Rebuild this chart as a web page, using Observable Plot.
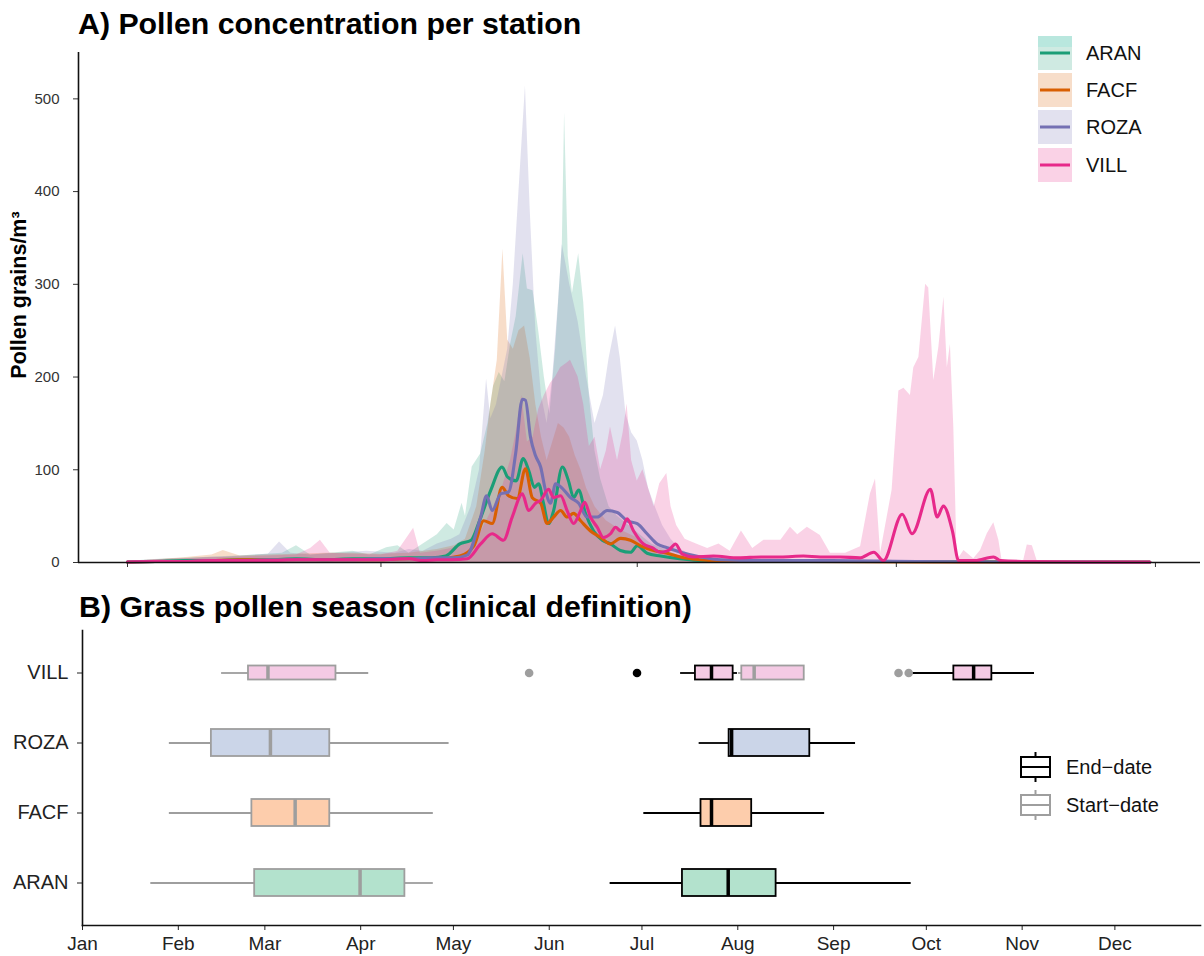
<!DOCTYPE html>
<html><head><meta charset="utf-8">
<script src="https://cdn.jsdelivr.net/npm/d3@7"></script>
<script src="https://cdn.jsdelivr.net/npm/@observablehq/plot@0.6"></script>
<style>
body{margin:0;background:#fff;font-family:"Liberation Sans",Arial,sans-serif;}
#wrap{position:relative;width:1204px;height:956px;overflow:hidden;}
#wrap > svg, #wrap > div{position:absolute;left:0;}
</style></head><body><div id="wrap"></div>
<script>
const FONT = '"Liberation Sans", Arial, sans-serif';
// ---------- data ----------
const stations = ["ARAN", "FACF", "ROZA", "VILL"];
const lineColors = ["#1b9e77", "#d95f02", "#7570b3", "#e7298a"];
const boxFills = ["#b3e2cd", "#fdcdac", "#cbd5e8", "#f4cae4"];
const yTicksA = [0, 100, 200, 300, 400, 500];
const quarterDays = [0, 90, 181, 273, 365];
const monthLabels = ["Jan","Feb","Mar","Apr","May","Jun","Jul","Aug","Sep","Oct","Nov","Dec"];
const monthStartDays = [0,31,59,90,120,151,181,212,243,273,304,334];

// Panel A: smoothed concentration per station [day of year, grains/m3]
const aranMean = [[0,0.5],[10,1],[20,2],[30,2],[40,3],[50,3],[60,4],[70,3],[80,4],[90,4],[100,5],[108,5],[113,7],[118,20],[122,24],[125,45],[129,78],[133,103],[135,92],[138,88],[140.5,112],[142.5,99],[144.5,81],[146,85],[147.7,64],[149.5,42],[151.3,56],[154.4,103],[156.6,88],[158.4,70],[160.2,78],[162.6,53],[165.5,34],[168.6,24],[171.5,20],[175,13],[178.6,11],[181,18],[184.5,10],[189.3,7],[196,4],[205,2],[220,2],[240,1],[270,1],[300,1],[330,0.5],[363,0.5]];
const facfMean = [[0,0.5],[10,1],[20,1],[30,2],[40,3],[50,3],[60,3],[70,3],[80,3],[90,3],[100,4],[110,4],[118,7],[123,18],[126.5,45],[129.5,42],[133,81],[135.3,72],[138.4,69],[141.3,101],[143.7,70],[146.7,64],[149,42],[151.3,49],[153.8,56],[156.1,49],[158.4,53],[160.9,45],[164.4,34],[168,27],[171.5,20],[175.1,26],[178.6,24],[182.2,18],[186.8,13],[191.6,10],[196.4,6],[203.5,3],[215,1],[240,1],[280,0.5],[363,0.3]];
const rozaMean = [[0,0.5],[10,1],[20,1],[30,2],[40,2],[50,3],[60,3],[70,3],[80,3],[90,4],[100,4],[110,5],[116,5],[120.6,8],[125.4,49],[127.5,72],[129.5,56],[132.5,74],[135.3,76],[137.8,117],[140.2,176],[141.3,175],[143.1,135],[144.9,115],[146.7,103],[148.4,78],[150.2,64],[152,85],[154.4,80],[157.3,70],[160.2,64],[163.2,49],[166.8,49],[170.3,56],[173.9,54],[177.4,45],[181,42],[184.5,31],[188.1,20],[191.6,16],[196.4,11],[203.5,6],[210.6,3],[225,2],[250,2],[280,1],[320,0.5],[363,0.3]];
const villMean = [[0,0.5],[10,1],[20,1],[30,2],[40,2],[50,2],[60,3],[70,3],[80,3],[90,3],[100,4],[105,2],[110,3],[115,3],[120.6,4],[125.4,20],[129.5,31],[133.5,24],[136.6,49],[140.2,74],[142.4,56],[144.9,64],[146.7,67],[149.5,79],[151.3,70],[153.8,72],[156.1,56],[158.4,42],[160.9,56],[162.3,65],[164.4,49],[166.8,38],[169,27],[171.5,31],[173.3,38],[175.1,34],[177.4,47],[179.7,34],[183.2,20],[186.3,16],[189.3,11],[192.1,13],[194.6,20],[197,9],[201,6],[208,7],[217,5],[225,6],[232,6],[240,7],[246,6],[253,6],[260,5],[265,11],[268.4,2],[275.1,52],[278.6,31],[285.1,79],[287.5,49],[289.7,61],[292.9,34],[295.1,2],[301,2],[307.5,6],[310,2],[320,1],[340,0.5],[363,0.5]];

// Panel A: daily maximum (upper edge of shaded band)
const aranMax = [[0,1],[8,3],[15,4],[25,5],[35,6],[45,8],[55,10],[60,18],[65,8],[72,10],[80,12],[86,8],[92,16],[96,18],[100,10],[105,20],[110,30],[113.5,42],[116,35],[118.8,64],[120,50],[122.4,103],[125.4,117],[128,150],[130,190],[132,205],[134,195],[136,235],[138,265],[140.5,333],[142,295],[144,293],[146,250],[148,200],[150,160],[152,230],[154.4,343],[155.2,485],[156.5,330],[158,290],[160.2,333],[162,280],[164,180],[166,120],[168,90],[171,60],[174,50],[178,40],[182,30],[186,20],[190,15],[195,8],[200,5],[210,4],[220,3],[240,2],[270,2],[300,1],[330,1],[363,0.5]];
const facfMax = [[0,1],[10,3],[20,5],[30,8],[34,13],[40,7],[50,8],[60,9],[70,10],[80,10],[90,9],[100,10],[110,14],[116,18],[120,25],[124,60],[127,120],[129,170],[131.3,218],[133.3,338],[135,240],[137,230],[139,250],[141,255],[143,220],[145,170],[147,135],[149,110],[151,130],[153,150],[155,145],[157,135],[159,115],[161,100],[163,80],[166,60],[170,45],[175,35],[180,28],[185,18],[190,10],[195,6],[200,3],[210,2],[240,1],[300,0.5],[363,0.3]];
const rozaMax = [[0,1],[10,3],[20,4],[30,6],[40,7],[50,9],[54,22],[58,10],[65,8],[75,10],[85,12],[95,10],[100,14],[105,12],[110,20],[115,25],[118,30],[122,60],[125,100],[127.5,198],[129,155],[131,170],[133,200],[135,230],[137,300],[139,400],[141.3,514],[143,380],[145,250],[147,180],[149,150],[151,200],[153,280],[154.4,343],[157,300],[160,260],[163,200],[166,150],[169,180],[171,220],[173.3,255],[175,220],[177,160],[179,140],[181,131],[183,110],[185,80],[187,63],[190,40],[193,25],[196,15],[200,8],[210,5],[225,4],[240,3],[270,2],[300,1],[363,0.5]];
const villMax = [[0,1],[10,3],[20,4],[30,5],[40,6],[50,7],[60,8],[65,15],[68.5,24],[72,10],[80,9],[90,8],[96,12],[101.6,37],[104,10],[110,12],[115,15],[120,20],[125,30],[130,60],[133,80],[136,110],[138,140],[140,180],[142,130],[144,135],[146,165],[148,180],[150.2,193],[152,200],[153.8,210],[156,215],[157.3,218],[160,200],[162,170],[164,125],[166,135],[168,100],[170,120],[171.5,146],[174,110],[176,140],[177.4,171],[179,110],[181,88],[183,100],[185,80],[187,60],[189,85],[191.5,96],[193,60],[195,40],[198,25],[202,20],[206,15],[210,20],[214,12],[218,34],[222,15],[226,24],[232,24],[235.4,38],[238,30],[241.4,38],[246,29],[249.6,10],[255,10],[260.3,17],[263.8,74],[265.6,90],[267.4,10],[271.5,78],[273.9,185],[275.7,188],[278,180],[279.2,210],[281,221],[283.4,300],[284.5,296],[286.3,196],[288.1,232],[289.9,286],[291.1,210],[292.2,235],[293.4,146],[294.6,2],[297,13],[300.5,4],[302.9,13],[305.3,31],[307.6,43],[309.4,24],[310.6,1],[318.2,2],[319.5,19],[321.3,18],[323,2],[330,1],[345,2],[363,1]];

// Panel B: season start / end dates (day of year) box statistics
const categories = ["VILL", "ROZA", "FACF", "ARAN"];
const boxStation = ["ARAN","FACF","ROZA","VILL","ARAN","FACF","ROZA","VILL","VILL","VILL"];
const boxType    = ["Start","Start","Start","Start","End","End","End","End","Start","End"];
const boxLo  = [22.1, 28.1, 28.1, 45.0, 170.7, 181.6, 199.5, 193.5, 212.2, 268.4];
const boxQ1  = [55.7, 54.8, 41.7, 53.7, 194.1, 200.1, 209.2, 198.3, 213.3, 281.9];
const boxMed = [89.8, 68.8, 60.8, 60.0, 208.9, 203.5, 210.0, 203.5, 217.3, 288.3];
const boxQ3  = [104.3, 80.0, 80.0, 82.0, 224.4, 216.5, 235.3, 210.5, 233.5, 294.2];
const boxHi  = [113.5, 113.5, 118.6, 92.6, 268.1, 240.1, 250.1, 211.9, 233.5, 308.0];
const outStation = ["VILL", "VILL", "VILL", "VILL"];
const outType    = ["Start", "End", "Start", "Start"];
const outDay     = [144.5, 179.4, 264.0, 267.3];
const typeColor = {Start: "#9e9e9e", End: "#000000"};

// ---------- panel A ----------
const meanSeries = [aranMean, facfMean, rozaMean, villMean];
const maxSeries = [aranMax, facfMax, rozaMax, villMax];
const wrap = document.getElementById("wrap");

const ribbons = maxSeries.map((s, i) => Plot.areaY(s, {x: d => d[0], y1: 0, y2: d => d[1], fill: lineColors[i], fillOpacity: 0.21}));
const lines = meanSeries.map((s, i) => Plot.line(s, {x: d => d[0], y: d => d[1], stroke: lineColors[i], strokeWidth: 3.1, curve: "monotone-x"}));

const plotA = Plot.plot({
  width: 1204, height: 580, marginTop: 52, marginBottom: 18, marginLeft: 78, marginRight: 4,
  style: {fontFamily: FONT, fontSize: "15px", color: "#333", background: "transparent", overflow: "visible"},
  x: {domain: [-17.4, 381]},
  y: {domain: [0, 550]},
  marks: [
    ...ribbons,
    ...lines,
    Plot.axisY({ticks: yTicksA, tickSize: 5, tickPadding: 14, label: null, fontSize: 15}),
    Plot.axisX({ticks: quarterDays, tickSize: 5, tickFormat: () => "", label: null}),
    Plot.ruleY([0], {stroke: "#111", strokeWidth: 1.6}),
    Plot.ruleX([-17.4], {stroke: "#111", strokeWidth: 1.6})
  ]
});
plotA.style.top = "0px";
wrap.appendChild(plotA);

// ---------- panel B ----------
const boxes = boxStation.map((s, i) => ({
  station: s, type: boxType[i], lo: boxLo[i], q1: boxQ1[i], med: boxMed[i], q3: boxQ3[i], hi: boxHi[i],
  fill: boxFills[stations.indexOf(s)], line: typeColor[boxType[i]]
}));
const outliers = outStation.map((s, i) => ({station: s, day: outDay[i], line: typeColor[outType[i]]}));
const wide = boxes.filter(d => d.station !== "VILL");
const narrow = boxes.filter(d => d.station === "VILL");

const plotB = Plot.plot({
  width: 1204, height: 366, marginTop: 40, marginBottom: 31, marginLeft: 82, marginRight: 4,
  style: {fontFamily: FONT, fontSize: "19px", color: "#222", background: "transparent", overflow: "visible"},
  x: {domain: [0, 361.7]},
  y: {type: "band", domain: categories, paddingInner: 0.616, paddingOuter: 0.408},
  color: {type: "identity"},
  marks: [
    Plot.ruleY(boxes, {y: "station", x1: "lo", x2: "q1", stroke: "line", strokeWidth: 1.8}),
    Plot.ruleY(boxes, {y: "station", x1: "q3", x2: "hi", stroke: "line", strokeWidth: 1.8}),
    Plot.barX(wide, {y: "station", x1: "q1", x2: "q3", fill: "fill", stroke: "line", strokeWidth: 1.8}),
    Plot.barX(narrow, {y: "station", x1: "q1", x2: "q3", fill: "fill", stroke: "line", strokeWidth: 1.8, insetTop: 6.5, insetBottom: 6.5}),
    Plot.tickX(wide, {x: "med", y: "station", stroke: "line", strokeWidth: 3.5}),
    Plot.tickX(narrow, {x: "med", y: "station", stroke: "line", strokeWidth: 3.5, insetTop: 6.5, insetBottom: 6.5}),
    Plot.dot(outliers, {x: "day", y: "station", r: 4.3, fill: "line"}),
    Plot.axisY({tickSize: 5, tickPadding: 9, label: null, fontSize: 20}),
    Plot.axisX({ticks: monthStartDays, tickFormat: d => monthLabels[monthStartDays.indexOf(d)], tickSize: 5, tickPadding: 6, label: null, fontSize: 19}),
    Plot.frame({anchor: "left", stroke: "#111", strokeWidth: 1.6}),
    Plot.frame({anchor: "bottom", stroke: "#111", strokeWidth: 1.6})
  ]
});
plotB.style.top = "590px";
wrap.appendChild(plotB);

// ---------- titles & legends overlay ----------
const ov = d3.select(wrap).append("svg")
  .attr("width", 1204).attr("height", 956)
  .style("top", "0px").style("pointer-events", "none")
  .style("font-family", FONT);

ov.append("text").attr("x", 78).attr("y", 34).attr("font-size", 30.3).attr("font-weight", "bold").attr("fill", "#000")
  .text("A) Pollen concentration per station");
ov.append("text").attr("x", 79).attr("y", 617).attr("font-size", 30.3).attr("font-weight", "bold").attr("fill", "#000")
  .text("B) Grass pollen season (clinical definition)");
ov.append("text").attr("transform", "translate(26,295) rotate(-90)").attr("text-anchor", "middle")
  .attr("font-size", 21.5).attr("font-weight", "bold").attr("fill", "#000").text("Pollen grains/m³");

// legend A
const keyY = [36, 73, 110, 148];
stations.forEach((s, i) => {
  const g = ov.append("g");
  g.append("rect").attr("x", 1038).attr("y", keyY[i]).attr("width", 34).attr("height", 34)
    .attr("fill", lineColors[i]).attr("fill-opacity", 0.21);
  g.append("line").attr("x1", 1040).attr("x2", 1070).attr("y1", keyY[i] + 17).attr("y2", keyY[i] + 17)
    .attr("stroke", lineColors[i]).attr("stroke-width", 3);
  g.append("text").attr("x", 1086).attr("y", keyY[i] + 17).attr("dy", "0.36em").attr("font-size", 20).attr("fill", "#111").text(s);
});
ov.insert("rect", ":first-child").attr("x", 1038).attr("y", 36).attr("width", 34).attr("height", 11).attr("fill", "#e3fcfa");

// legend B
const legB = [{label: "End−date", c: "#000", y: 767}, {label: "Start−date", c: "#9e9e9e", y: 805}];
legB.forEach(l => {
  const g = ov.append("g").attr("stroke", l.c).attr("stroke-width", 2).attr("fill", "none");
  g.append("rect").attr("x", 1021).attr("y", l.y - 10).attr("width", 29).attr("height", 20);
  g.append("line").attr("x1", 1021).attr("x2", 1050).attr("y1", l.y).attr("y2", l.y);
  g.append("line").attr("x1", 1035.5).attr("x2", 1035.5).attr("y1", l.y - 15).attr("y2", l.y - 10);
  g.append("line").attr("x1", 1035.5).attr("x2", 1035.5).attr("y1", l.y + 10).attr("y2", l.y + 15);
  ov.append("text").attr("x", 1066).attr("y", l.y).attr("dy", "0.36em").attr("font-size", 20).attr("fill", "#111").text(l.label);
});
</script></body></html>
